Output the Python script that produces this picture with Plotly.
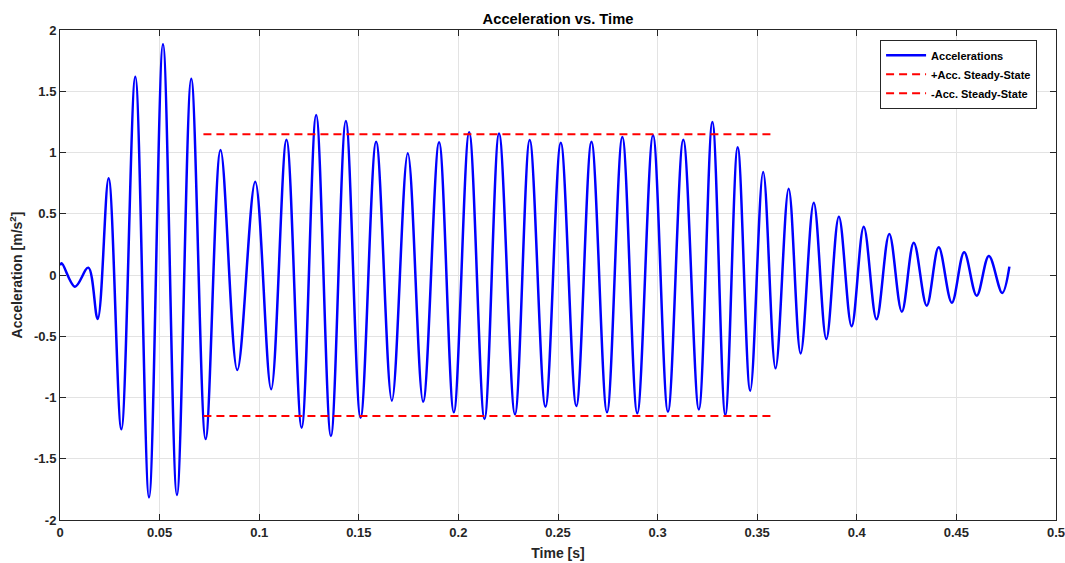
import plotly.graph_objects as go

# Extrema of the acceleration signal (time [s], acceleration [m/s^2])
time_s = [0.0, 0.00085, 0.00753, 0.0142, 0.0189, 0.0244, 0.0308, 0.0378, 0.0447, 0.0517,
          0.0587, 0.0659, 0.0731, 0.0806, 0.0890, 0.0980, 0.1060, 0.1137, 0.1213, 0.1286,
          0.1360, 0.1435, 0.1509, 0.1587, 0.1666, 0.1746, 0.1823, 0.1903, 0.1977, 0.2054,
          0.2131, 0.2204, 0.2284, 0.2358, 0.2437, 0.2514, 0.2592, 0.2668, 0.2746, 0.2823,
          0.2898, 0.2977, 0.3052, 0.3129, 0.3207, 0.3275, 0.3340, 0.3402, 0.3465, 0.3530,
          0.3592, 0.3658, 0.3718, 0.3784, 0.3847, 0.3910, 0.3974, 0.4035, 0.4099, 0.4163,
          0.4226, 0.4286, 0.4351, 0.4411, 0.4477, 0.4539, 0.4602, 0.4663, 0.4730, 0.4766]
accel = [0.08, 0.095, -0.095, 0.06, -0.359, 0.789, -1.26, 1.619, -1.815, 1.883,
         -1.796, 1.603, -1.339, 1.02, -0.776, 0.762, -0.933, 1.105, -1.246, 1.306,
         -1.314, 1.257, -1.165, 1.088, -1.026, 0.993, -1.034, 1.083, -1.121, 1.165,
         -1.176, 1.156, -1.137, 1.102, -1.075, 1.08, -1.069, 1.088, -1.121, 1.127,
         -1.129, 1.14, -1.116, 1.105, -1.097, 1.249, -1.143, 1.042, -0.944, 0.84,
         -0.762, 0.705, -0.64, 0.59, -0.522, 0.476, -0.419, 0.394, -0.362, 0.335,
         -0.299, 0.264, -0.25, 0.226, -0.226, 0.185, -0.169, 0.155, -0.147, 0.068]

steady_t = [0.072, 0.358]
steady_pos = [1.15, 1.15]
steady_neg = [-1.15, -1.15]

x_ticks = [0, 0.05, 0.1, 0.15, 0.2, 0.25, 0.3, 0.35, 0.4, 0.45, 0.5]
x_tick_labels = ["0", "0.05", "0.1", "0.15", "0.2", "0.25", "0.3", "0.35", "0.4", "0.45", "0.5"]
y_ticks = [-2, -1.5, -1, -0.5, 0, 0.5, 1, 1.5, 2]
y_tick_labels = ["-2", "-1.5", "-1", "-0.5", "0", "0.5", "1", "1.5", "2"]

FONT = "Liberation Sans, Arial, sans-serif"
AX = "#262626"

fig = go.Figure()
fig.add_trace(go.Scatter(x=time_s, y=accel, mode="lines", name="Accelerations",
                         line=dict(color="#0000ff", width=2.5, shape="spline", smoothing=1.0)))
fig.add_trace(go.Scatter(x=steady_t, y=steady_pos, mode="lines", name="+Acc. Steady-State",
                         line=dict(color="#ff0000", width=2, dash="8px,5px")))
fig.add_trace(go.Scatter(x=steady_t, y=steady_neg, mode="lines", name="-Acc. Steady-State",
                         line=dict(color="#ff0000", width=2, dash="8px,5px")))

axis_common = dict(showline=True, linecolor=AX, linewidth=1, mirror="ticks",
                   ticks="inside", ticklen=6, tickcolor=AX, tickwidth=1,
                   showgrid=True, gridcolor="#e3e3e3", gridwidth=1, zeroline=False,
                   ticklabeloverflow="allow", automargin=False,
                   tickfont=dict(family=FONT, size=13, color=AX, weight="bold"))

fig.update_layout(
    width=1065, height=563,
    margin=dict(l=60, r=9, t=30, b=43, autoexpand=False),
    paper_bgcolor="white", plot_bgcolor="white",
    font=dict(family=FONT, color=AX),
    title=dict(text="Acceleration vs. Time", x=0.5, xref="paper", xanchor="center",
               y=1 - 19 / 563, yref="container", yanchor="middle",
               font=dict(family=FONT, size=14.7, color="black", weight="bold")),
    xaxis=dict(range=[0, 0.5], tickvals=x_ticks, ticktext=x_tick_labels,
               title=dict(text="Time [s]", font=dict(family=FONT, size=14, color=AX, weight="bold"), standoff=9),
               **axis_common),
    yaxis=dict(range=[-2, 2], tickvals=y_ticks, ticktext=y_tick_labels,
               title=dict(text="Acceleration [m/s<sup>2</sup>]", font=dict(family=FONT, size=14, color=AX, weight="bold"), standoff=8),
               **axis_common),
    legend=dict(x=0.981, y=0.98, xanchor="right", yanchor="top",
                bgcolor="white", bordercolor=AX, borderwidth=1,
                font=dict(family=FONT, size=11, color="black", weight="bold"),
                tracegroupgap=0, itemwidth=40),
    showlegend=True,
)

fig.write_html("out.html")
